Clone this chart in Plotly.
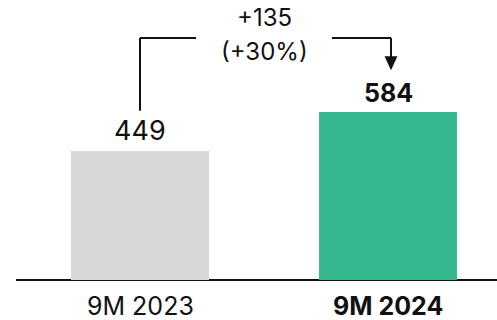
import plotly.graph_objects as go

# Period totals
categories = ["9M 2023", "9M 2024"]
values = [449, 584]
bar_colors = ["#D6D7D9", "#35B78F"]

delta = values[1] - values[0]
delta_pct = round(delta / values[0] * 100)

FONT = "Inter, Roboto, Arial, sans-serif"
x_pos = list(range(len(categories)))

fig = go.Figure()
fig.add_trace(go.Bar(
    x=x_pos, y=values, width=0.556,
    marker=dict(color=bar_colors, line=dict(width=0)),
    hoverinfo="skip",
))

annotations = []
# value labels above the bars
for i, v in enumerate(values):
    bold = i == len(values) - 1
    annotations.append(dict(
        x=i, y=v, xref="x", yref="y", text=f"<b>{v}</b>" if bold else str(v),
        showarrow=False, yanchor="bottom", yshift=2,
        font=dict(family=FONT, size=25 if bold else 27, color="#111111"),
    ))
# category labels under the baseline
for i, c in enumerate(categories):
    bold = i == len(categories) - 1
    annotations.append(dict(
        x=i, y=0, xref="x", yref="y", text=f"<b>{c}</b>" if bold else c,
        showarrow=False, yanchor="top", yshift=-9,
        font=dict(family=FONT, size=25, color="#111111"),
    ))
# change labels
annotations.append(dict(
    x=0.5, y=912, xref="x", yref="y", text=f"+{delta}",
    showarrow=False, yanchor="middle",
    font=dict(family=FONT, size=24, color="#111111"),
))
annotations.append(dict(
    x=0.5, y=796, xref="x", yref="y", text=f"(+{delta_pct}%)",
    showarrow=False, yanchor="middle",
    font=dict(family=FONT, size=24, color="#111111"),
))

# bracket connecting the two bars
line = dict(color="#111111", width=2)
y_top = 842
shapes = [
    dict(type="line", xref="x", yref="y", x0=0, x1=0, y0=values[0] + 140, y1=y_top, line=line),
    dict(type="line", xref="x", yref="y", x0=0, x1=0.226, y0=y_top, y1=y_top, line=line),
    dict(type="line", xref="x", yref="y", x0=0.774, x1=1.012, y0=y_top, y1=y_top, line=line),
    dict(type="line", xref="x", yref="y", x0=1.012, x1=1.012, y0=y_top, y1=775, line=line),
    dict(type="path", xref="x", yref="y",
         path="M 0.986 778 L 1.038 778 L 1.012 730 Z",
         fillcolor="#111111", line=dict(width=0)),
]

fig.update_layout(
    width=497, height=320,
    margin=dict(l=16, r=0, t=0, b=40),
    paper_bgcolor="white", plot_bgcolor="white",
    showlegend=False,
    annotations=annotations,
    shapes=shapes,
    xaxis=dict(range=[-0.5, 1.4395], showticklabels=False, showgrid=False,
               zeroline=False, showline=False, fixedrange=True),
    yaxis=dict(range=[0, 974], showticklabels=False, showgrid=False,
               zeroline=True, zerolinecolor="#111111", zerolinewidth=2,
               showline=False, fixedrange=True),
)

fig.write_html("out.html")
